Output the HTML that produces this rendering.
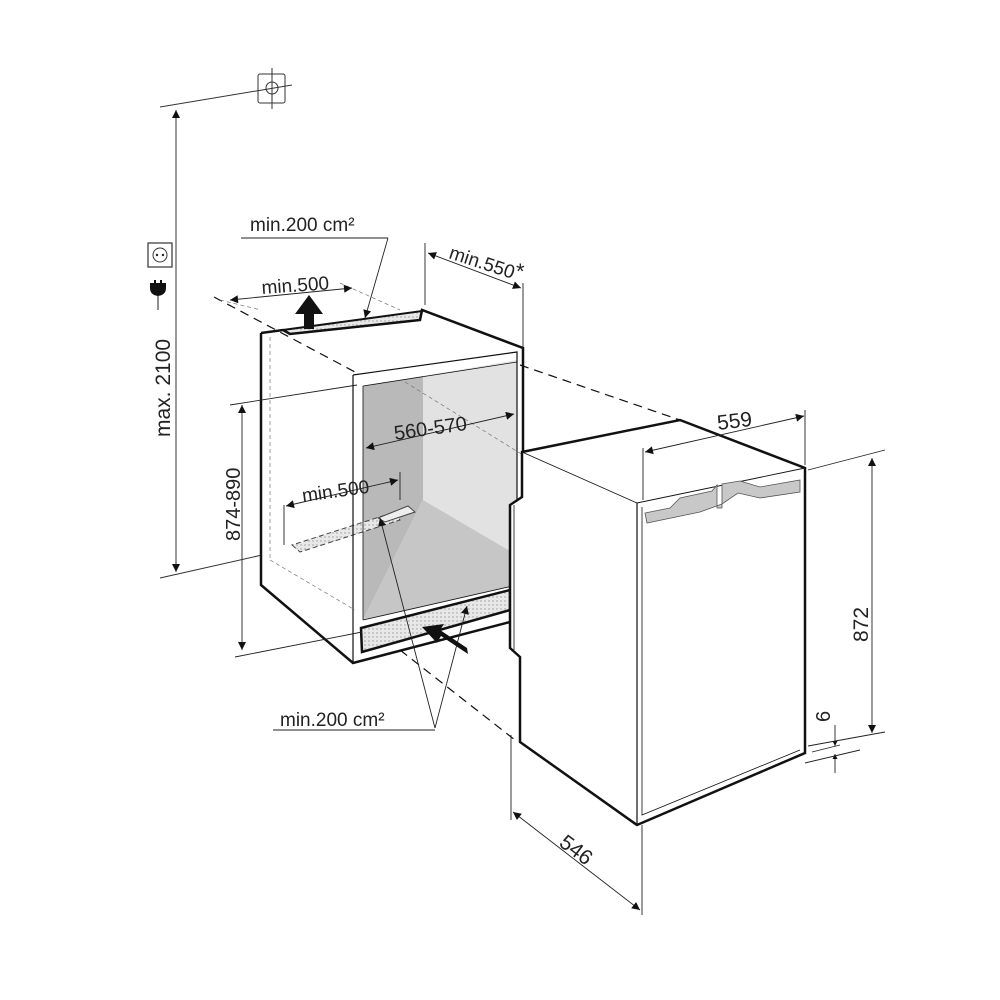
<!DOCTYPE html>
<html><head><meta charset="utf-8"><style>
html,body{margin:0;padding:0;background:#fff}
svg{display:block}
text{font-family:"Liberation Sans",Arial,sans-serif;fill:#222}
</style></head><body>
<svg width="1000" height="1000" viewBox="0 0 1000 1000" xmlns="http://www.w3.org/2000/svg">
<defs>
<marker id="a" viewBox="0 0 10 10" refX="10" refY="5" markerWidth="11" markerHeight="8" orient="auto-start-reverse" markerUnits="userSpaceOnUse"><path d="M0,0 L10,5 L0,10 z" fill="#111"/></marker>
<marker id="s" viewBox="0 0 10 10" refX="10" refY="5" markerWidth="7" markerHeight="5" orient="auto-start-reverse" markerUnits="userSpaceOnUse"><path d="M0,0 L10,5 L0,10 z" fill="#111"/></marker>
<pattern id="dots" width="4" height="4" patternUnits="userSpaceOnUse"><rect width="4" height="4" fill="#e8e8e8"/><circle cx="1" cy="1" r="0.7" fill="#999"/></pattern>
</defs>
<g stroke="#333" fill="none" stroke-width="1">
<line x1="160" y1="107" x2="292" y2="85"/>
<rect x="258" y="74" width="27" height="29" rx="2"/>
<circle cx="272" cy="88" r="6"/>
<line x1="272" y1="68" x2="272" y2="109"/>
<line x1="176" y1="110" x2="176" y2="572" marker-start="url(#a)" marker-end="url(#a)"/>
<line x1="160" y1="578" x2="262" y2="555"/>
<rect x="148" y="243" width="24" height="24" stroke-width="1.2"/>
<circle cx="160" cy="255" r="7"/>
</g>
<circle cx="157" cy="255" r="1.2" fill="#222"/><circle cx="163" cy="255" r="1.2" fill="#222"/>
<path d="M150,283 h4 v-3 h2 v3 h4 v-3 h2 v3 h4 v5 q0,7 -8,8 q-8,-1 -8,-8 z" fill="#111"/>
<line x1="158" y1="296" x2="158" y2="310" stroke="#222"/>
<text x="170" y="437" font-size="21" transform="rotate(-90 170 437)">max. 2100</text>

<polygon points="363,386 423,376 423,500 363,620" fill="#b9b9b9"/>
<polygon points="423,376 517,360 517,555 423,500" fill="#e2e2e2"/>
<polygon points="363,620 423,500 517,555 517,585 363,620" fill="#c6c6c6"/>
<polygon points="283,330 290,334 420,320 422,311" fill="url(#dots)" stroke="#111" stroke-width="2"/>
<polygon points="361,628 510,590 510,610 362,652" fill="url(#dots)" stroke="#111" stroke-width="2.5"/>
<polygon points="292,545 300,552 400,520 395,512" fill="url(#dots)" stroke="#444" stroke-dasharray="5,3"/>
<polygon points="378,518 385,522 415,512 408,506" fill="#eee" stroke="#444"/>

<g stroke="#111" fill="none">
<polyline points="261,333 283,330 290,334 420,320 422,310 523,348 523,492" stroke-width="2.5"/>
<polyline points="261,333 261,585 353,663 510,622" stroke-width="2.5"/>
<polyline points="353,375 353,663" stroke-width="1.2"/>
<polyline points="353,375 517,352 517,590" stroke-width="1.2"/>
<polyline points="363,386 517,362" stroke-width="0.8"/>
<line x1="363" y1="386" x2="363" y2="620" stroke-width="0.8"/>
<line x1="363" y1="620" x2="517" y2="585" stroke-width="0.8"/>
<g stroke-dasharray="9,6" stroke-width="1.2">
<line x1="214" y1="297" x2="355" y2="372"/>
<line x1="520" y1="365" x2="680" y2="420"/>
<line x1="400" y1="650" x2="515" y2="740"/>
</g>
<g stroke-dasharray="4,3" stroke-width="0.7" stroke="#777">
<line x1="270" y1="337" x2="270" y2="560"/>
<line x1="270" y1="560" x2="355" y2="610"/>
<line x1="405" y1="382" x2="523" y2="455"/>
<line x1="220" y1="300" x2="261" y2="310"/>
<line x1="340" y1="283" x2="400" y2="310"/>
</g>
</g>

<g stroke="#111" fill="#fff">
<polygon points="522,452 680,420 805,468 805,753 637,825 520,742 520,657 510,648 510,505 522,497" stroke-width="2.5"/>
<polyline points="522,452 637,503 805,468" fill="none" stroke-width="0.9"/>
<line x1="637" y1="503" x2="637" y2="825" stroke-width="1.2"/>
<polyline points="642,507 642,815 800,750" fill="none" stroke-width="0.8"/>
<polyline points="514,505 514,650" fill="none" stroke-width="0.8"/>
</g>
<polygon points="645,513 670,508 680,498 712,491 717,485 717,508 722,508 722,484 740,481 760,487 800,480 800,492 760,498 738,493 722,504 700,512 647,523" fill="#c8c8c8" stroke="#555" stroke-width="0.8"/>

<g stroke="#222" fill="none" stroke-width="0.9">
<line x1="241" y1="238" x2="388" y2="238"/>
<line x1="388" y1="238" x2="365" y2="318" marker-end="url(#a)"/>
<line x1="230" y1="300" x2="352" y2="288" marker-start="url(#a)" marker-end="url(#a)"/>
<line x1="425" y1="243" x2="425" y2="305"/>
<line x1="523" y1="283" x2="523" y2="348"/>
<line x1="428" y1="253" x2="521" y2="288" marker-start="url(#a)" marker-end="url(#a)"/>
<line x1="366" y1="448" x2="514" y2="414" marker-start="url(#a)" marker-end="url(#a)"/>
<line x1="286" y1="506" x2="398" y2="480" marker-start="url(#a)" marker-end="url(#a)"/>
<line x1="284" y1="505" x2="284" y2="545"/>
<line x1="400" y1="472" x2="400" y2="500"/>
<line x1="230" y1="405" x2="357" y2="385"/>
<line x1="235" y1="657" x2="362" y2="632"/>
<line x1="242" y1="405" x2="242" y2="650" marker-start="url(#a)" marker-end="url(#a)"/>
<line x1="273" y1="730" x2="435" y2="730"/>
<line x1="435" y1="728" x2="380" y2="518" marker-end="url(#a)"/>
<line x1="435" y1="728" x2="467" y2="606" marker-end="url(#a)"/>
<line x1="643" y1="448" x2="643" y2="500"/>
<line x1="805" y1="410" x2="805" y2="465"/>
<line x1="645" y1="452" x2="804" y2="416" marker-start="url(#a)" marker-end="url(#a)"/>
<line x1="808" y1="470" x2="885" y2="450"/>
<line x1="808" y1="746" x2="885" y2="732"/>
<line x1="872" y1="458" x2="872" y2="733" marker-start="url(#a)" marker-end="url(#a)"/>
<line x1="812" y1="752" x2="840" y2="745"/>
<line x1="805" y1="763" x2="860" y2="750"/>
<line x1="835" y1="725" x2="835" y2="746" marker-end="url(#s)"/>
<line x1="835" y1="773" x2="835" y2="754" marker-end="url(#s)"/>
<line x1="511" y1="735" x2="511" y2="820"/>
<line x1="642" y1="825" x2="642" y2="915"/>
<line x1="513" y1="812" x2="640" y2="910" marker-start="url(#a)" marker-end="url(#a)"/>
</g>
<path d="M304,329 v-15 h-9 l14,-19 l14,19 h-9 v15 z" fill="#111"/>
<path d="M468,654 l-27,-18 l-4,7 l-15,-16 l22,-3 l-4,6 l27,18 z" fill="#111"/>

<g font-size="19">
<text x="250" y="231">min.200 cm²</text>
<text x="262" y="294" transform="rotate(-4 262 294)">min.500</text>
<text x="448" y="258" transform="rotate(18 448 258)">min.550</text>
<text x="516" y="279" font-size="22">*</text>
<text x="395" y="440" transform="rotate(-8 395 440)" font-size="20">560-570</text>
<text x="303" y="502" transform="rotate(-8 303 502)">min.500</text>
<text x="240" y="541" transform="rotate(-90 240 541)" font-size="20">874-890</text>
<text x="280" y="726">min.200 cm²</text>
<text x="718" y="430" transform="rotate(-7 718 430)" font-size="21">559</text>
<text x="868" y="642" transform="rotate(-90 868 642)" font-size="21">872</text>
<text x="830" y="722" transform="rotate(-90 830 722)" font-size="20">6</text>
<text x="558" y="845" transform="rotate(37 558 845)" font-size="21">546</text>
</g>
</svg>
</body></html>
